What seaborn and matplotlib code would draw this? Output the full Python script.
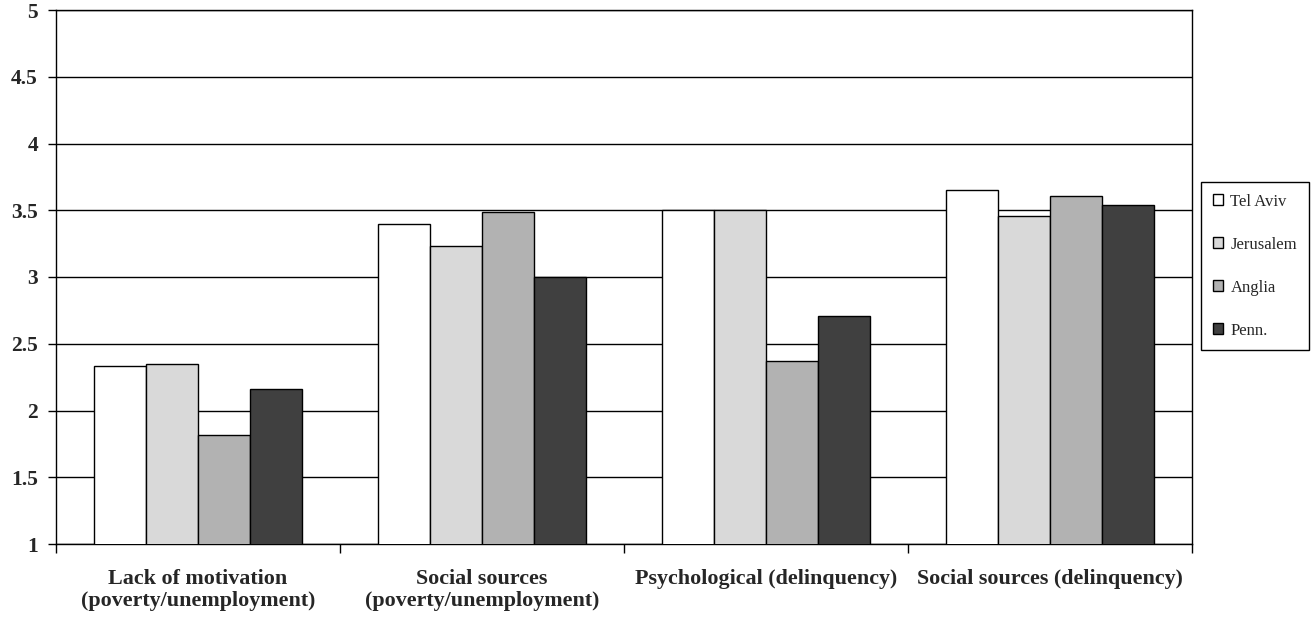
import matplotlib
matplotlib.use("Agg")
import matplotlib.pyplot as plt
import seaborn as sns
import pandas as pd

categories = [
    "Lack of motivation\n(poverty/unemployment)",
    "Social sources\n(poverty/unemployment)",
    "Psychological (delinquency)",
    "Social sources (delinquency)",
]
regions = ["Tel Aviv", "Jerusalem", "Anglia", "Penn."]
tel_aviv = [2.33, 3.40, 3.50, 3.65]
jerusalem = [2.35, 3.23, 3.50, 3.46]
anglia = [1.82, 3.49, 2.37, 3.61]
penn = [2.16, 3.00, 2.71, 3.54]
y_ticks = [1, 1.5, 2, 2.5, 3, 3.5, 4, 4.5, 5]
y_tick_labels = ["1", "1.5", "2", "2.5", "3", "3.5", "4", "4.5", "5"]

series = {"Tel Aviv": tel_aviv, "Jerusalem": jerusalem, "Anglia": anglia, "Penn.": penn}
rows = []
for region, vals in series.items():
    for cat, v in zip(categories, vals):
        rows.append({"category": cat, "region": region, "score": v})
df = pd.DataFrame(rows)

sns.set_style("white")
plt.rcParams["font.family"] = ["Liberation Serif", "DejaVu Serif"]

fig = plt.figure(figsize=(13.15, 6.18), dpi=100)
ax = fig.add_axes([56 / 1315, 74 / 618, (1192 - 56) / 1315, (544 - 10) / 618])

palette = ["#ffffff", "#d9d9d9", "#b2b2b2", "#404040"]
sns.barplot(
    data=df, x="category", y="score", hue="region",
    order=categories, hue_order=regions, palette=palette,
    width=0.735, edgecolor="black", linewidth=1.0, ax=ax,
    errorbar=None, saturation=1, zorder=3,
)

ax.set_ylim(1, 5)
ax.set_xlim(-0.5, 3.5)
ax.set_yticks(y_ticks)
ax.set_yticklabels(y_tick_labels, fontsize=15.5, fontweight="bold")
ax.yaxis.grid(True, color="black", linewidth=1.0, zorder=0)
ax.set_axisbelow(True)
ax.set_xlabel("")
ax.set_ylabel("")

ax.set_xticks(range(len(categories)))
ax.set_xticklabels(categories, fontsize=15.8, fontweight="bold", linespacing=1.12)
ax.set_xticks([-0.5, 0.5, 1.5, 2.5, 3.5], minor=True)
ax.tick_params(axis="x", which="major", bottom=True, length=0, pad=18)
ax.tick_params(axis="x", which="minor", bottom=True, length=6.5, width=1,
               direction="out", color="black")
ax.tick_params(axis="y", which="major", left=True, length=6, width=1,
               direction="out", color="black", pad=7)

for side in ["left", "bottom", "top", "right"]:
    ax.spines[side].set_visible(True)
    ax.spines[side].set_color("black")
    ax.spines[side].set_linewidth(1.0)

handles, labels = ax.get_legend_handles_labels()
ax.legend(
    handles, labels, loc="upper left",
    bbox_to_anchor=(1201 / 1315, 1 - 182 / 618), bbox_transform=fig.transFigure,
    frameon=True, fancybox=False, edgecolor="black", framealpha=1,
    fontsize=12, labelspacing=1.62, handlelength=0.62, handleheight=0.62,
    handletextpad=0.45, borderpad=0.7, borderaxespad=0,
)
ax.get_legend().get_frame().set_linewidth(1.0)

fig.savefig("out.png", dpi=100)
